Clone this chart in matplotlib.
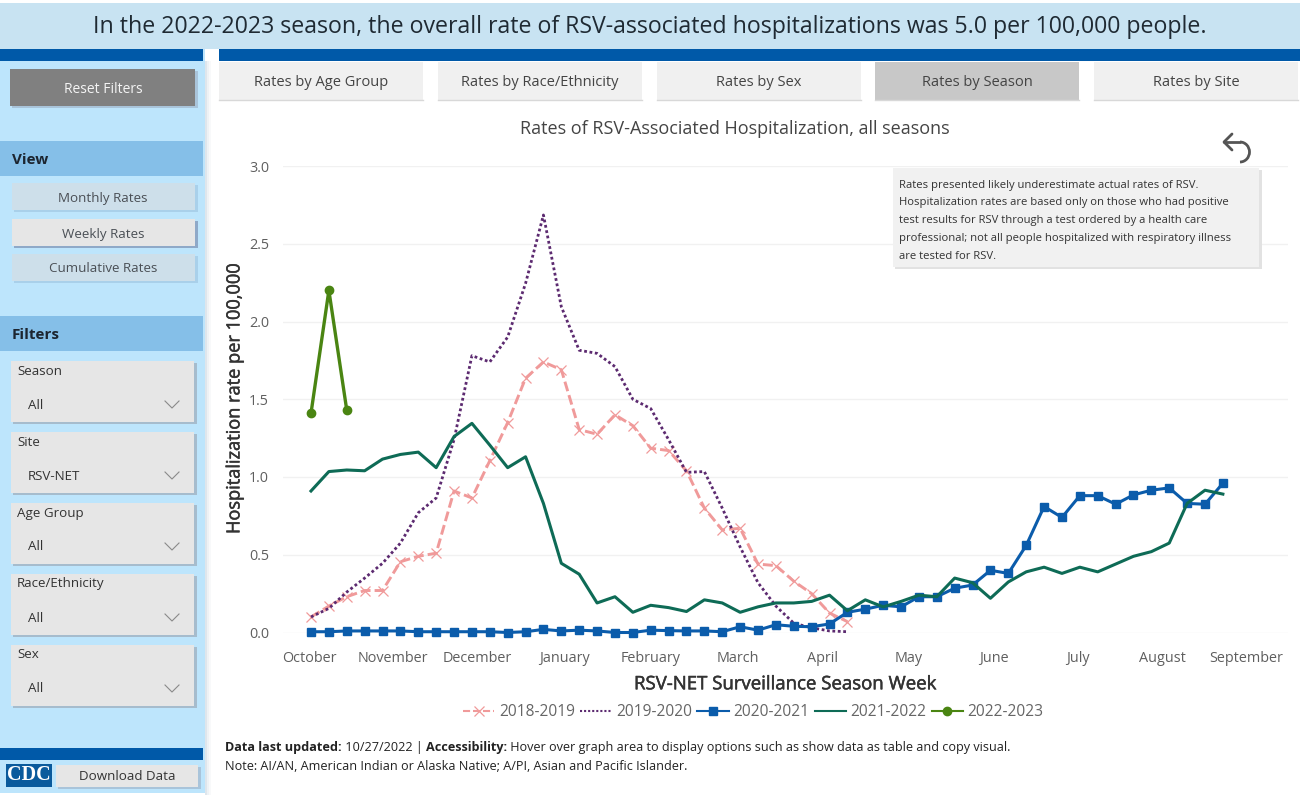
import matplotlib
matplotlib.use("Agg")
import matplotlib.pyplot as plt
import matplotlib.patheffects as pe
from matplotlib.patches import Arc, Rectangle

plt.rcParams['font.family'] = ['Open Sans', 'DejaVu Sans']

# Values, one per surveillance week
rates_2018 = [0.10, 0.17, 0.23, 0.27, 0.27, 0.455, 0.49, 0.51, 0.91, 0.865, 1.105, 1.35, 1.635, 1.74, 1.69,
              1.305, 1.275, 1.40, 1.33, 1.185, 1.17, 1.04, 0.80, 0.66, 0.67, 0.44, 0.43, 0.33, 0.25, 0.125, 0.07]
rates_2019 = [0.10, 0.155, 0.26, 0.35, 0.445, 0.575, 0.77, 0.865, 1.24, 1.78, 1.74, 1.90, 2.245, 2.685, 2.095,
              1.815, 1.795, 1.71, 1.50, 1.44, 1.24, 1.03, 1.035, 0.80, 0.55, 0.32, 0.17, 0.06, 0.03, 0.01, 0.005]
rates_2020 = [0.005, 0.005, 0.01, 0.01, 0.01, 0.01, 0.005, 0.005, 0.005, 0.005, 0.005, 0.0, 0.005, 0.02, 0.01,
              0.015, 0.01, 0.0, 0.0, 0.015, 0.012, 0.01, 0.01, 0.005, 0.037, 0.015, 0.05, 0.04, 0.037, 0.055,
              0.13, 0.15, 0.175, 0.165, 0.23, 0.23, 0.285, 0.305, 0.40, 0.38, 0.56, 0.81, 0.74, 0.88, 0.88,
              0.825, 0.885, 0.915, 0.93, 0.83, 0.825, 0.96]
rates_2021 = [0.91, 1.035, 1.045, 1.04, 1.115, 1.145, 1.16, 1.06, 1.26, 1.345, 1.205, 1.06, 1.13, 0.83, 0.445,
              0.375, 0.19, 0.23, 0.13, 0.175, 0.16, 0.135, 0.21, 0.19, 0.13, 0.165, 0.19, 0.19, 0.20, 0.24,
              0.14, 0.21, 0.165, 0.20, 0.24, 0.23, 0.35, 0.32, 0.22, 0.325, 0.39, 0.42, 0.38, 0.42, 0.39,
              0.44, 0.49, 0.52, 0.575, 0.83, 0.915, 0.89]
rates_2022 = [1.41, 2.20, 1.43]

month_labels = ["October", "November", "December", "January", "February", "March", "April",
                "May", "June", "July", "August", "September"]
month_weeks = [-0.1, 4.6, 9.3, 14.2, 19.0, 23.9, 28.6, 33.4, 38.2, 42.9, 47.6, 52.3]
y_ticks = [0.0, 0.5, 1.0, 1.5, 2.0, 2.5, 3.0]

tab_labels = ["Rates by Age Group", "Rates by Race/Ethnicity", "Rates by Sex", "Rates by Season", "Rates by Site"]
view_labels = ["Monthly Rates", "Weekly Rates", "Cumulative Rates"]
filter_labels = ["Season", "Site", "Age Group", "Race/Ethnicity", "Sex"]
filter_values = ["All", "RSV-NET", "All", "All", "All"]

W, H = 1300, 797
fig = plt.figure(figsize=(W / 100, H / 100), dpi=100, facecolor="white")

# Page furniture lives in an axes that uses pixel coordinates
bg = fig.add_axes([0, 0, 1, 1], zorder=0)
bg.set_xlim(0, W)
bg.set_ylim(H, 0)
bg.axis("off")


def box(ax, x0, y0, x1, y1, color, shadow=None, z=1):
    if shadow:
        ax.add_patch(Rectangle((x0 + 2, y0 + 2), x1 - x0 + 1, y1 - y0, color=shadow, lw=0, zorder=z))
    ax.add_patch(Rectangle((x0, y0), x1 - x0, y1 - y0, color=color, lw=0, zorder=z + 0.1))


# sidebar, banner and stripes
box(bg, 0, 48, 205, H - 4, "#bde5fc")
for i, c in enumerate(["#dfe6ec", "#eef2f5", "#f8f9fa"]):
    box(bg, 205 + i * 2, 61, 207 + i * 2, H - 2, c)
box(bg, 0, 3, W, 49, "#c8e3f2")
box(bg, 0, 49, 203, 61, "#0059a8", z=2)
box(bg, 219, 49, W, 61, "#0059a8", z=2)
box(bg, 0, 748, 203, 760, "#0059a8", z=2)
bg.text(650, 27, "In the 2022-2023 season, the overall rate of RSV-associated hospitalizations was 5.0 per 100,000 people.",
        ha="center", va="center", fontsize=16.65, color="#1f2a33", zorder=5)

# tabs
tab_lefts = [219, 438, 657, 875, 1094]
for left, label in zip(tab_lefts, tab_labels):
    active = label == "Rates by Season"
    box(bg, left, 62, left + 204, 100, "#c8c8c8" if active else "#f0f0f0", z=2)
    bg.plot([left, left + 204], [100, 100], color="#d8d8d8", lw=1, zorder=3)
    bg.text(left + 102, 82, label, ha="center", va="center", fontsize=10.5, color="#444444", zorder=5)

# left buttons
box(bg, 10, 69, 195, 106, "#808080", shadow="#a9c4da", z=2)
bg.text(103, 89, "Reset Filters", ha="center", va="center", fontsize=10, color="#f4f4f4", zorder=5)

box(bg, 0, 141, 203, 176, "#85bfe8", z=2)
bg.text(12, 159.5, "View", ha="left", va="center", fontsize=11, fontweight="bold", color="#1c2530", zorder=5)
for top, label in zip([183, 219, 254], view_labels):
    selected = label == "Weekly Rates"
    box(bg, 12, top, 195, top + 27, "#e6e6e6" if selected else "#cddfea",
        shadow="#8fa9c8" if selected else "#a9d0ea", z=2)
    bg.text(103, top + 15, label, ha="center", va="center", fontsize=9.6, color="#4a4f55", zorder=5)

box(bg, 0, 316, 203, 351, "#85bfe8", z=2)
bg.text(12, 334.5, "Filters", ha="left", va="center", fontsize=11, fontweight="bold", color="#1c2530", zorder=5)
for top, label, value in zip([361, 432, 503, 574, 645], filter_labels, filter_values):
    box(bg, 11, top, 194, top + 61, "#e6e6e6", shadow="#a6bccd", z=2)
    bg.text(17, top + 10, label, ha="left", va="center", fontsize=9.6, color="#333333", zorder=5)
    bg.text(28, top + 44, value, ha="left", va="center", fontsize=9.6, color="#333333", zorder=5)
    bg.plot([165, 172, 179], [top + 40, top + 47, top + 40], color="#8a8a8a", lw=0.8, zorder=5)

# CDC logo and download button
box(bg, 6, 764, 52, 787, "#0a5a9c", z=2)
bg.text(29, 775, "CDC", ha="center", va="center", fontsize=14.5, fontweight="bold", family="Liberation Serif",
        color="white", zorder=5)
box(bg, 56, 765, 198, 787, "#e6e6e6", shadow="#a9c4da", z=2)
bg.text(127, 776, "Download Data", ha="center", va="center", fontsize=9.6, color="#333333", zorder=5)

bg.text(735, 129, "Rates of RSV-Associated Hospitalization, all seasons", ha="center", va="center",
        fontsize=13, color="#444444", zorder=5)


# footer, with bold and regular runs on one line
def text_runs(x, y, runs):
    renderer = fig.canvas.get_renderer()
    for s, weight in runs:
        t = bg.text(x, y, s, ha="left", va="center", fontsize=9.13, fontweight=weight, color="#222222", zorder=5)
        x += t.get_window_extent(renderer).width


text_runs(225, 748, [("Data last updated:", "bold"), ("\u00a010/27/2022 |\u00a0", "normal"), ("Accessibility:", "bold"),
                     ("\u00a0Hover over graph area to display options such as show data as table and copy visual.", "normal")])
text_runs(225, 766, [("Note: AI/AN, American Indian or Alaska Native; A/PI, Asian and Pacific Islander.", "normal")])

# Chart axes: gridlines run from pixel 283 to 1288, weeks are 17.88 px apart
x0_px, x1_px, top_px, bottom_px = 283, 1288, 166, 632.5
ax = fig.add_axes([x0_px / W, 1 - bottom_px / H, (x1_px - x0_px) / W, (bottom_px - top_px) / H], zorder=1)
ax.patch.set_alpha(0)
ax.set_xlim((x0_px - 311) / 17.88, (x1_px - 311) / 17.88)
ax.set_ylim(0, 3)
for s in ax.spines.values():
    s.set_visible(False)
ax.grid(axis="y", color="#f1f1f1", lw=1)
ax.set_axisbelow(True)

ax.plot(rates_2018, color="#f09a9a", ls=(0, (3.4, 1.4)), lw=2.1, marker="x", ms=7.5, mew=0.9, clip_on=False, label="2018-2019")
ax.plot(rates_2019, color="#5c2a70", ls=(0, (1, 0.95)), lw=2.0, clip_on=False, label="2019-2020")
ax.plot(rates_2020, color="#0b5cab", lw=2.2, marker="s", ms=6.2, clip_on=False, label="2020-2021")
ax.plot(rates_2021, color="#0e6b56", lw=2.2, clip_on=False, label="2021-2022")
ax.plot(rates_2022, color="#4a8512", lw=2.4, marker="o", ms=6, clip_on=False, label="2022-2023")

ax.set_xticks(month_weeks, month_labels)
ax.set_yticks(y_ticks, [f"{v:.1f}" for v in y_ticks])
ax.tick_params(axis="both", length=0, labelsize=10.4, labelcolor="#5f5f5f")
ax.tick_params(axis="x", pad=13)
ax.tick_params(axis="y", pad=10)
# Open Sans has no medium weight here, a thin stroke thickens the axis titles
thicker = [pe.withStroke(linewidth=0.35, foreground="#333333")]
ax.set_xlabel("RSV-NET Surveillance Season Week", fontsize=13.4, color="#333333", labelpad=7, path_effects=thicker)
ax.set_ylabel("Hospitalization rate per 100,000", fontsize=13.1, color="#333333", labelpad=4, path_effects=thicker)

leg = ax.legend(loc="center", bbox_to_anchor=(753.5 / W, 1 - 712 / H), bbox_transform=fig.transFigure, ncol=5, frameon=False,
                fontsize=11.2, handlelength=2.0, columnspacing=0.32, handletextpad=0.32, labelcolor="#666666")
for handle in leg.get_lines():
    handle.set_linewidth(1.5)

# Tooltip and back arrow sit over the chart
fg = fig.add_axes([0, 0, 1, 1], zorder=2)
fg.set_xlim(0, W)
fg.set_ylim(H, 0)
fg.axis("off")
box(fg, 893, 168, 1259, 267, "#f1f1f1", shadow="#e2e2e2", z=1)
tooltip_lines = ["Rates presented likely underestimate actual rates of RSV.",
                 "Hospitalization rates are based only on those who had positive",
                 "test results for RSV through a test ordered by a health care",
                 "professional; not all people hospitalized with respiratory illness",
                 "are tested for RSV."]
for i, line in enumerate(tooltip_lines):
    fg.text(899, 185 + i * 17.8, line, ha="left", va="center", fontsize=8.15, color="#333333", zorder=5)
arrow_color = "#555555"
fg.plot([1232, 1224, 1232], [134, 142, 150], color=arrow_color, lw=2, solid_capstyle="round", zorder=5)
fg.plot([1224, 1240], [142, 142], color=arrow_color, lw=2, solid_capstyle="round", zorder=5)
fg.add_patch(Arc((1240, 152), 19, 20, theta1=-90, theta2=90, color=arrow_color, lw=2, zorder=5))

fig.savefig("out.png", dpi=100)
